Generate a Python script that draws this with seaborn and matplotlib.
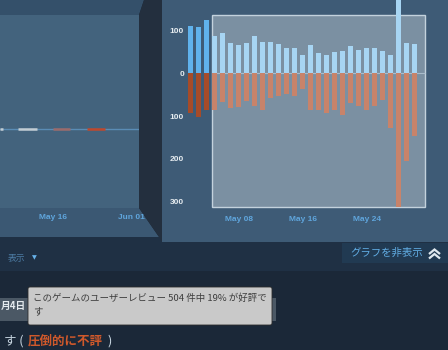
import matplotlib
matplotlib.use("Agg")
import matplotlib.pyplot as plt
from matplotlib.patches import Rectangle, Polygon, FancyBboxPatch
import seaborn as sns
import pandas as pd

# ---------------- data ----------------
days = ["05-%02d" % d for d in range(2, 31)]
positive = [110, 107, 124, 87, 95, 70, 66, 71, 88, 74, 73, 68, 58, 60, 43, 67,
            48, 43, 50, 52, 63, 54, 58, 60, 53, 43, 175, 70, 68]
negative = [93, 101, 85, 85, 66, 81, 78, 64, 76, 85, 58, 54, 48, 53, 37, 85,
            85, 93, 85, 97, 70, 76, 85, 76, 62, 128, 312, 205, 147]
x_tick_pos = [6, 14, 22]
x_tick_labels = ["May 08", "May 16", "May 24"]
y_tick_vals = [100, 0, -100, -200, -300]
y_tick_labels = ["100", "0", "100", "200", "300"]
sel_start, sel_end = 3, 28   # highlighted range (bar indices)

# overview (left) chart: day-of-May spans and kinds
ov_start = [5.1, 8.8, 16.0, 23.0]
ov_end = [5.7, 12.7, 19.5, 26.7]
ov_kind = ["pos", "pos", "mix", "neg"]
ov_tick_pos = [16, 32]
ov_tick_labels = ["May 16", "Jun 01"]

tooltip_lines = ["このゲームのユーザーレビュー 504 件中 19% が好評で", "す"]
rating_text = "圧倒的に不評"

# ---------------- style ----------------
sns.set_theme(style="white")
plt.rcParams["font.family"] = ["Noto Sans CJK JP", "DejaVu Sans"]
LAT = ["Liberation Sans", "DejaVu Sans"]

W, H = 448, 350
fig = plt.figure(figsize=(W / 100, H / 100), dpi=100)
fig.patch.set_facecolor("#1b2838")


def px_axes(x, y, w, h, **kw):
    return fig.add_axes([x / W, 1 - (y + h) / H, w / W, h / H], **kw)


bg = px_axes(0, 0, W, H)
bg.set_xlim(0, W)
bg.set_ylim(H, 0)
bg.axis("off")
bg.set_zorder(0)

# bands / panels
bg.add_patch(Rectangle((0, 236), W, 35, color="#1f3044", lw=0))
bg.add_patch(Rectangle((162, 0), W - 162, 242, color="#3e5b76", lw=0))
bg.add_patch(Polygon([(0, 0), (144, 0), (139, 15), (0, 15)], closed=True, color="#34506a", lw=0))
bg.add_patch(Polygon([(0, 208), (139, 208), (159, 237), (0, 237)], closed=True, color="#3b5873", lw=0))
bg.add_patch(Polygon([(144, 0), (162, 0), (162, 242), (159, 237), (139, 208), (139, 15)],
                     closed=True, color="#232f3e", lw=0))

# ---------------- left overview axes ----------------
axl = px_axes(0, 15, 139, 193)
axl.set_zorder(1)
axl.set_facecolor("#43637d")
for s in axl.spines.values():
    s.set_visible(False)
axl.set_xlim(5.13, 33.64)
axl.set_ylim(-79, 114)
axl.axhline(0, color="#5a8cb5", lw=1.0)
kind_col = {"pos": "#c3cdd3", "mix": "#9c6a6a", "neg": "#c0472b"}
kind_off = {"pos": 0.3, "mix": 0.0, "neg": -0.3}
for s0, s1, k in zip(ov_start, ov_end, ov_kind):
    axl.hlines(kind_off[k], s0, s1, color=kind_col[k], lw=1.8)
axl.set_yticks([])
axl.set_xticks(ov_tick_pos)
axl.set_xticklabels(ov_tick_labels, family=LAT, fontsize=6, fontweight="bold", color="#5fa5dc")
axl.tick_params(axis="x", length=0, pad=4)

# ---------------- main bar chart ----------------
ax = px_axes(182.7, 0, 248, 212)
ax.set_zorder(2)
ax.patch.set_alpha(0)

df = pd.DataFrame({"day": days, "up": positive, "down": [-v for v in negative]})
in_sel = [sel_start <= i <= sel_end for i in range(len(days))]
up_cols = ["#a7d5f3" if s else "#60b2ec" for s in in_sel]
dn_cols = ["#c8836a" if s else "#a64b28" for s in in_sel]

sns.barplot(data=df, x="day", y="up", hue="day", palette=up_cols, legend=False,
            width=0.6, saturation=1, ax=ax, zorder=3, linewidth=0, edgecolor="none")
sns.barplot(data=df, x="day", y="down", hue="day", palette=dn_cols, legend=False,
            width=0.6, saturation=1, ax=ax, zorder=3, linewidth=0, edgecolor="none")

ax.add_patch(Rectangle((sel_start - 0.34, -312), sel_end - sel_start + 1.64, 448,
                       facecolor="#7b90a2", edgecolor="#c3d2dd", lw=1.0, zorder=1))
ax.hlines(0, sel_start - 0.34, sel_end + 1.3, color="#a9bccb", lw=0.8, zorder=2)

ax.set_xlim(-1, 30)
ax.set_ylim(-323.8, 171.1)
for s in ax.spines.values():
    s.set_visible(False)
ax.set_xlabel("")
ax.set_ylabel("")
ax.set_xticks(x_tick_pos)
ax.set_xticklabels(x_tick_labels, family=LAT, fontsize=6, fontweight="bold", color="#5fa5dc")
ax.set_yticks(y_tick_vals)
ax.set_yticklabels(y_tick_labels, family=LAT, fontsize=6, fontweight="bold", color="#e6ecf0")
ax.tick_params(axis="y", length=0, pad=-1)
ax.tick_params(axis="x", length=0, pad=3)
ax.grid(False)

# ---------------- bottom UI ----------------
bg.text(8, 258, "表示", fontsize=6.3, color="#4d7ca4", va="center", ha="left")
bg.text(34.5, 258, "▼", fontsize=4.5, color="#67b2ea", va="center", ha="center",
        family=["DejaVu Sans"])

bg.add_patch(Rectangle((342, 243), 106, 20, color="#213a52", lw=0))
bg.text(350, 253, "グラフを非表示", fontsize=7.5, color="#62aee5", va="center", ha="left")
for yy in (254, 258.5):
    bg.plot([429, 434.5, 440], [yy, yy - 4.5, yy], color="#dfe8ee", lw=1.6,
            solid_capstyle="butt", solid_joinstyle="miter")

bg.add_patch(Rectangle((0, 298), 276, 23, color="#4b5865", lw=0))
bg.text(0.5, 306, "月4日", fontsize=7, fontweight="bold", color="#e4eaee", va="center", ha="left")
bg.add_patch(FancyBboxPatch((28, 287), 244, 38, boxstyle="round,pad=0,rounding_size=2",
                            facecolor="#c9c9c9", edgecolor="#2c2c2c", lw=0.6, zorder=5))
bg.text(33, 298, tooltip_lines[0], fontsize=6.8, color="#3d3d3d", va="center", ha="left", zorder=6)
bg.text(33, 312, tooltip_lines[1], fontsize=6.8, color="#3d3d3d", va="center", ha="left", zorder=6)

bg.text(23, 341, "す (", fontsize=9, color="#c7d5e0", va="center", ha="right")
bg.text(28, 341, rating_text, fontsize=9, fontweight="bold", color="#d0592b", va="center", ha="left")
bg.text(107, 341, ")", fontsize=9, color="#c7d5e0", va="center", ha="left")

fig.savefig("out.png", dpi=100, facecolor=fig.get_facecolor())
